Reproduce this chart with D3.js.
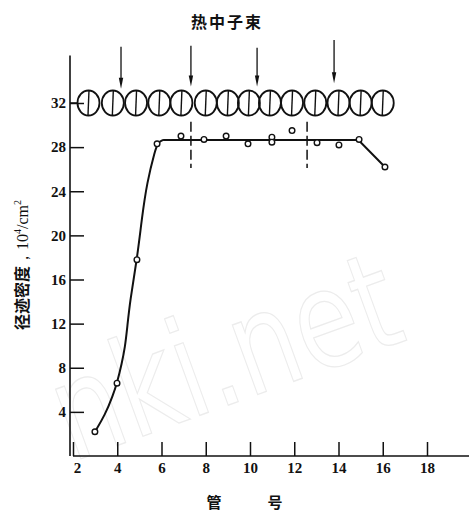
<!DOCTYPE html>
<html>
<head>
<meta charset="utf-8">
<script src="https://cdn.jsdelivr.net/npm/d3@7"></script>
<style>
  body { margin: 0; background: #fff; }
</style>
</head>
<body>
<svg id="chart" width="469" height="512"></svg>
<script>
// ---- data ----
const xTicks = [2, 4, 6, 8, 10, 12, 14, 16, 18];
const yTicks = [4, 8, 12, 16, 20, 24, 28, 32];

// fuel rods drawn along the 32 line
const rodTubes = [2.7, 3.8, 4.85, 5.9, 6.9, 8.0, 9.0, 9.95, 10.9, 11.9, 12.95, 14.0, 15.0, 16.0];
const rodLevel = 32;

// neutron beam arrows
const arrowTubes = [4.17, 7.33, 10.32, 13.8];
const arrowTop = [37.1, 37.2, 37.0, 37.7];
const arrowTip = [33.3, 33.5, 33.5, 33.8];

// dashed markers
const dashTubes = [7.33, 12.58];
const dashRange = [30.3, 26.1];

// measured points
const pointTubes = [2.99, 3.99, 4.89, 5.8, 6.88, 7.92, 8.92, 9.91, 10.99, 10.99, 11.9, 13.03, 14.02, 14.93, 16.1];
const pointDensity = [2.2, 6.6, 17.8, 28.3, 29.0, 28.7, 29.0, 28.3, 28.9, 28.45, 29.5, 28.4, 28.2, 28.7, 26.2];

// fitted curve: rising part (traced) and plateau
const riseTubes = [2.99, 3.45, 3.81, 3.99, 4.21, 4.35, 4.44, 4.58, 4.89, 5.12, 5.34, 5.71, 5.85, 6.07];
const riseDensity = [2.2, 3.72, 5.53, 6.62, 8.43, 9.88, 11.42, 14.14, 17.77, 21.67, 24.75, 27.74, 28.45, 28.65];
const plateauTubes = [6.07, 14.9, 16.1];
const plateauDensity = [28.65, 28.65, 26.2];

const svg = d3.select("#chart");

const x = d3.scaleLinear().domain([2, 18]).range([73, 427]);
const y = d3.scaleLinear().domain([0, 32]).range([456, 103]);

const serif = "Liberation Serif, DejaVu Serif, serif";
const cjk = "Noto Sans CJK SC, sans-serif";

// faint watermark
svg.append("text")
  .attr("transform", "translate(72,462) rotate(-20) scale(1,1.3)")
  .style("font-family", "DejaVu Sans, sans-serif")
  .attr("font-size", 104)
  .style("fill", "none")
  .attr("stroke", "#ececec")
  .attr("stroke-width", 1)
  .text("nki.net");

// title
svg.append("text")
  .attr("x", 227).attr("y", 28)
  .attr("text-anchor", "middle")
  .style("font-family", cjk)
  .attr("font-weight", "bold")
  .attr("font-size", 16)
  .attr("letter-spacing", 2)
  .attr("fill", "#111")
  .text("热中子束");

// x axis
const xAxis = svg.append("g")
  .attr("transform", "translate(0,456)")
  .call(d3.axisBottom(x).tickValues(xTicks).tickSizeInner(-14).tickSizeOuter(0).tickPadding(6))
  .call(g => g.select(".domain").remove());
xAxis.selectAll(".tick line").attr("stroke", "#111").attr("stroke-width", 1.5);
xAxis.selectAll(".tick text")
  .style("font-family", serif).style("font-size", "15px").style("font-weight", "bold")
  .attr("fill", "#111")
  .attr("dx", d => d === 2 ? 4 : 0);
xAxis.append("line")
  .attr("x1", x(2)).attr("x2", 469)
  .attr("stroke", "#111").attr("stroke-width", 1.6);

// y axis
const yAxis = svg.append("g")
  .attr("transform", "translate(70,0)")
  .call(d3.axisLeft(y).tickValues(yTicks).tickSizeInner(-14).tickSizeOuter(0).tickPadding(4))
  .call(g => g.select(".domain").remove());
yAxis.selectAll(".tick line").attr("stroke", "#111").attr("stroke-width", 1.5);
yAxis.selectAll(".tick text")
  .style("font-family", serif).style("font-size", "15px").style("font-weight", "bold")
  .attr("fill", "#111");
yAxis.append("line")
  .attr("y1", y(36.3)).attr("y2", y(0))
  .attr("stroke", "#111").attr("stroke-width", 1.6);

// axis titles
svg.append("g")
  .style("font-family", cjk).attr("font-weight", "bold").attr("font-size", 15)
  .attr("fill", "#111")
  .selectAll("text")
  .data([["管", 214], ["号", 275]])
  .join("text")
  .attr("x", d => d[1]).attr("y", 508)
  .attr("text-anchor", "middle")
  .text(d => d[0]);

const yTitle = svg.append("text")
  .attr("transform", "translate(28,265) rotate(-90)")
  .attr("text-anchor", "middle")
  .attr("fill", "#111")
  .attr("font-size", 16);
yTitle.append("tspan").style("font-family", cjk).attr("font-weight", "bold").text("径迹密度");
yTitle.append("tspan").style("font-family", serif).text("，10");
yTitle.append("tspan").style("font-family", serif).attr("font-size", 10).attr("dy", -7).text("4");
yTitle.append("tspan").style("font-family", serif).attr("dy", 7).text("/cm");
yTitle.append("tspan").style("font-family", serif).attr("font-size", 10).attr("dy", -7).text("2");

// rods
const rods = svg.append("g").attr("stroke", "#111").attr("stroke-width", 1.8).attr("fill", "none");
rods.selectAll("ellipse")
  .data(rodTubes)
  .join("ellipse")
  .attr("cx", d => x(d)).attr("cy", y(rodLevel))
  .attr("rx", 11).attr("ry", 12.5);
rods.selectAll("line")
  .data(rodTubes)
  .join("line")
  .attr("x1", d => x(d) + 0.5).attr("x2", d => x(d) - 0.5)
  .attr("y1", y(rodLevel) - 12.5).attr("y2", y(rodLevel) + 12.5)
  .attr("stroke-width", 1.4);
// short connector from axis to first rod
svg.append("line")
  .attr("x1", 70).attr("x2", x(rodTubes[0]) - 11)
  .attr("y1", y(rodLevel)).attr("y2", y(rodLevel))
  .attr("stroke", "#111").attr("stroke-width", 1.5);

// arrows
const arrows = svg.append("g").selectAll("g")
  .data(arrowTubes)
  .join("g");
arrows.append("line")
  .attr("x1", d => x(d)).attr("x2", d => x(d))
  .attr("y1", (d, i) => y(arrowTop[i]))
  .attr("y2", (d, i) => y(arrowTip[i]) - 6)
  .attr("stroke", "#111").attr("stroke-width", 1.3);
arrows.append("path")
  .attr("d", (d, i) => {
    const px = x(d), py = y(arrowTip[i]);
    return `M${px - 2.2},${py - 11}L${px + 2.2},${py - 11}L${px},${py}Z`;
  })
  .attr("fill", "#111");

// dashed markers
svg.append("g").selectAll("line")
  .data(dashTubes)
  .join("line")
  .attr("x1", d => x(d)).attr("x2", d => x(d))
  .attr("y1", y(dashRange[0])).attr("y2", y(dashRange[1]))
  .attr("stroke", "#111").attr("stroke-width", 1.5)
  .attr("stroke-dasharray", "10,4");

// curve
svg.append("path")
  .datum(riseTubes.map((t, i) => [t, riseDensity[i]]))
  .attr("d", d3.line().x(d => x(d[0])).y(d => y(d[1])).curve(d3.curveBasis))
  .attr("fill", "none").attr("stroke", "#111").attr("stroke-width", 2);
svg.append("path")
  .datum(plateauTubes.map((t, i) => [t, plateauDensity[i]]))
  .attr("d", d3.line().x(d => x(d[0])).y(d => y(d[1])))
  .attr("fill", "none").attr("stroke", "#111").attr("stroke-width", 2);

// points
svg.append("g").selectAll("circle")
  .data(pointTubes.map((t, i) => [t, pointDensity[i]]))
  .join("circle")
  .attr("cx", d => x(d[0])).attr("cy", d => y(d[1]))
  .attr("r", 2.8)
  .attr("fill", "#fff").attr("stroke", "#111").attr("stroke-width", 1.4);
</script>
</body>
</html>
